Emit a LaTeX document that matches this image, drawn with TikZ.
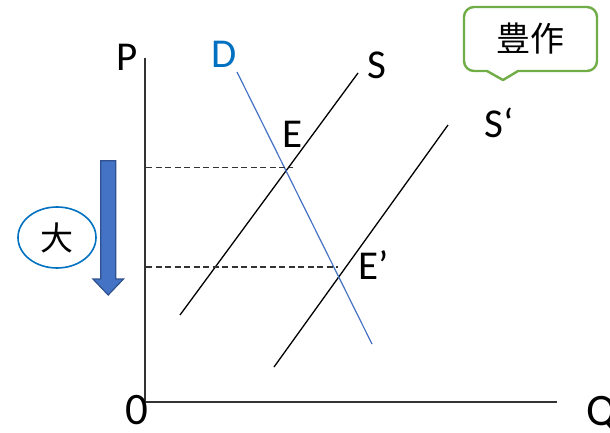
\documentclass[tikz,border=0pt]{standalone}
\usepackage{fontspec}
\setmainfont{Carlito}
\newfontfamily\cjk{Noto Sans CJK JP}
\usetikzlibrary{shapes.geometric}
\definecolor{dblue}{HTML}{0070C0}
\definecolor{lblue}{HTML}{4472C4}
\definecolor{bdark}{HTML}{2F528F}
\definecolor{bgreen}{HTML}{70AD47}
\tikzset{
  lab/.style={inner sep=0pt, font=\fontsize{41}{48}\selectfont},
  biglab/.style={inner sep=0pt, font=\fontsize{45}{50}\selectfont},
  axis/.style={line width=1.4pt, black!80},
  supply/.style={line width=1.3pt, black},
  demand/.style={line width=1.2pt, lblue},
  guide/.style={line width=1.1pt, black!80, dash pattern=on 6pt off 3.5pt},
}
\begin{document}
\begin{tikzpicture}[x=1pt,y=-1pt]
\useasboundingbox (0,0) rectangle (610,433);
% axes
\coordinate (ytop) at (145,58);
\coordinate (orig) at (145,402);
\coordinate (xend) at (557,402);
\draw[axis] (ytop) -- (orig) -- (xend);
\node[lab] (P) at (127,57) {P};
\node[biglab] (zero) at (137,410) {0};
\node[biglab, anchor=west] (Q) at (586,414) {Q};
% supply and demand
\coordinate (s1a) at (180,315);
\coordinate (s1b) at (358,73);
\coordinate (s2a) at (274,367);
\coordinate (s2b) at (448,125);
\coordinate (da) at (237,72);
\coordinate (db) at (372,344);
\draw[supply] (s1a) -- (s1b);
\draw[supply] (s2a) -- (s2b);
\draw[demand] (da) -- (db);
\node[lab] (S) at (377,65) {S};
\node[lab] (S2) at (499,123) {S‘};
\node[lab, text=dblue] (D) at (224,54) {D};
\node[lab] (E) at (293,134) {E};
\node[lab] (E2) at (374,265) {E’};
% guide lines
\coordinate (g1a) at (146,167.5);
\coordinate (g1b) at (293,167.5);
\coordinate (g2a) at (146,267);
\coordinate (g2b) at (338,267);
\draw[guide] (g1a) -- (g1b);
\draw[guide] (g2a) -- (g2b);
% block arrow
\draw[fill=lblue, draw=bdark, line width=1.2pt, line join=miter]
  (100.7,160.7) -- (115.7,160.7) -- (115.7,279) -- (123.5,279) -- (108.2,295)
  -- (92.9,279) -- (100.7,279) -- cycle;
% ellipse label
\node[ellipse, draw=dblue, line width=1.6pt, minimum width=78pt, minimum height=61pt,
  inner sep=0pt, font=\cjk\fontsize{33}{36}\selectfont] (big) at (57,237.5) {大};
% callout
\draw[bgreen, line width=2.4pt, line join=round]
  (503,80) [sharp corners] -- (518,71) [rounded corners=10pt] -- (597,71) -- (597,7)
  -- (464,7) -- (464,71) [sharp corners] -- (487,71) -- cycle;
\node[inner sep=0pt, font=\cjk\fontsize{34}{38}\selectfont] (harvest) at (530,39) {豊作};
\end{tikzpicture}
\end{document}
